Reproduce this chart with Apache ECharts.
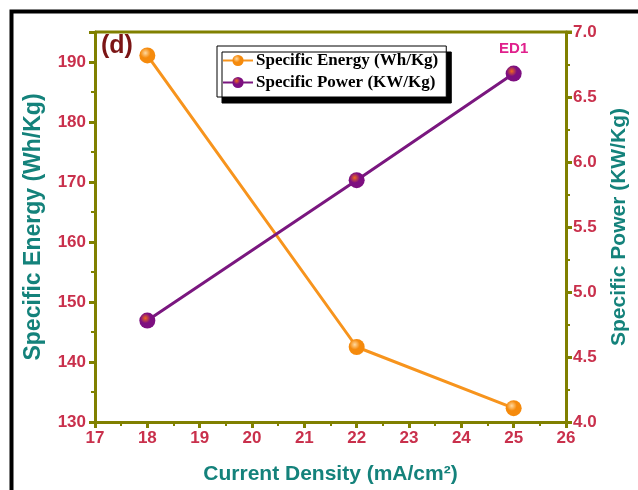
<!DOCTYPE html>
<html><head><meta charset="utf-8">
<script src="https://cdn.jsdelivr.net/npm/echarts@6/dist/echarts.min.js"></script>
<style>html,body{margin:0;padding:0;background:#fff;overflow:hidden}#c{width:638px;height:490px}</style>
</head><body><div id="c"></div>
<script>
var currentDensity = [18, 22, 25];
var specificEnergy = [191.1, 142.5, 132.3];
var specificPower = [4.78, 5.86, 6.68];
var xTicks = [17, 18, 19, 20, 21, 22, 23, 24, 25, 26];
var energyTicks = [130, 140, 150, 160, 170, 180, 190];
var powerTicks = [4.0, 4.5, 5.0, 5.5, 6.0, 6.5, 7.0];

var olive = '#808000', tickRed = '#c9304c', teal = '#14827b';
function sphere(base, hi) {
  return {type:'radial', x:0.38, y:0.35, r:0.7, colorStops:[{offset:0,color:hi},{offset:0.45,color:base},{offset:1,color:base}]};
}
var chart = echarts.init(document.getElementById('c'), null, {renderer:'canvas', width:638, height:490});
var axisCommon = {
  axisLine:{show:true, lineStyle:{color:olive, width:3}},
  axisTick:{show:true, inside:false, length:6, lineStyle:{color:olive, width:3}},
  minorTick:{show:true, splitNumber:2, length:4, lineStyle:{color:olive, width:2}},
  splitLine:{show:false},
  axisLabel:{color:tickRed, fontFamily:'Liberation Sans, Arial', fontWeight:'bold', fontSize:17},
  nameTextStyle:{color:teal, fontFamily:'Liberation Sans, Arial', fontWeight:'bold', fontSize:21}
};
chart.setOption({
  animation:false,
  grid:{left:95, width:477, top:32, height:391, show:false},
  graphic:[
    {type:'rect', left:9, top:9, shape:{width:700, height:600}, style:{fill:null, stroke:'#000', lineWidth:4}, silent:true},
    {type:'line', shape:{x1:95, y1:32, x2:572, y2:32}, style:{stroke:olive, lineWidth:3}},
    {type:'text', left:101, top:34, style:{text:'(d)', fill:'#7b1515', font:'bold 25px Liberation Sans, Arial'}}
  ],
  legend:{
    orient:'vertical', left:217, top:46, padding:[6,8,6,5], itemGap:5,
    itemWidth:30, itemHeight:14,
    backgroundColor:'#fff', borderColor:'#000', borderWidth:1,
    shadowColor:'#000', shadowBlur:0, shadowOffsetX:5, shadowOffsetY:6,
    textStyle:{fontFamily:'Liberation Serif, Times New Roman', fontWeight:'bold', fontSize:17, color:'#000', padding:[0,0,0,-2]},
    data:['Specific Energy (Wh/Kg)','Specific Power (KW/Kg)']
  },
  xAxis:Object.assign({}, axisCommon, {
    type:'value', min:17, max:26, interval:1,
    name:'Current Density (mA/cm²)', nameLocation:'middle', nameGap:42,
    axisLabel:Object.assign({}, axisCommon.axisLabel, {margin:8, formatter:function(v){return xTicks.indexOf(v)>=0? String(v):'';}})
  }),
  yAxis:[
    Object.assign({}, axisCommon, {
      type:'value', min:130, max:195, interval:10, position:'left',
      name:'Specific Energy (Wh/Kg)', nameLocation:'middle', nameGap:50,
      nameTextStyle:Object.assign({}, axisCommon.nameTextStyle, {fontSize:23}),
      axisLabel:Object.assign({}, axisCommon.axisLabel, {margin:9, formatter:function(v){return energyTicks.indexOf(v)>=0? String(v):'';}})
    }),
    Object.assign({}, axisCommon, {
      type:'value', min:4.0, max:7.0, interval:0.5, position:'right',
      name:'Specific Power (KW/Kg)', nameLocation:'middle', nameGap:43, nameRotate:90,
      axisLabel:Object.assign({}, axisCommon.axisLabel, {margin:7, formatter:function(v){return powerTicks.indexOf(v)>=0? v.toFixed(1):'';}})
    })
  ],
  series:[
    {name:'Specific Energy (Wh/Kg)', type:'line', yAxisIndex:0,
     data:currentDensity.map(function(x,i){return [x, specificEnergy[i]];}),
     symbol:'circle', symbolSize:16,
     lineStyle:{color:'#f7941d', width:3},
     itemStyle:{color:sphere('#f58a0c','#ffd9a0')}
    },
    {name:'Specific Power (KW/Kg)', type:'line', yAxisIndex:1,
     data:currentDensity.map(function(x,i){
       var d = {value:[x, specificPower[i]]};
       if (i === currentDensity.length-1) d.label = {show:true, position:'top', distance:9, formatter:'ED1', color:'#e0208c', fontFamily:'Liberation Sans, Arial', fontWeight:'bold', fontSize:15};
       return d;
     }),
     symbol:'circle', symbolSize:16,
     lineStyle:{color:'#7a177f', width:3},
     itemStyle:{color:sphere('#7d0f80','#f26a1b')}
    }
  ]
});
</script></body></html>
